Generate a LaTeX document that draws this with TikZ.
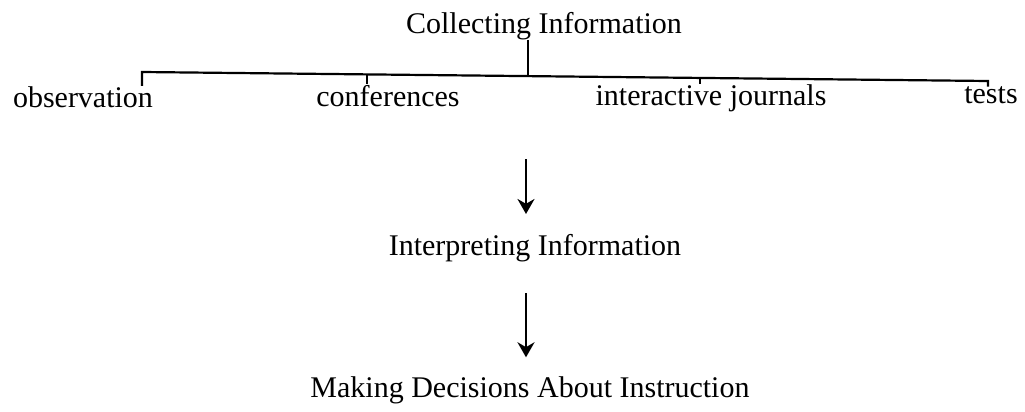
\documentclass[tikz,border=0pt]{standalone}
\usepackage{fontspec}
\setmainfont{Liberation Serif}
\usetikzlibrary{arrows.meta}

\begin{document}
\begin{tikzpicture}[
x=0.5pt, y=-0.5pt,
label/.style={anchor=base, inner sep=0pt, font=\fontsize{15}{18}\selectfont},
bracket/.style={line width=1.1pt},
flow/.style={line width=1.3pt, -{Stealth[length=7.5pt,width=8.5pt]}},
]
\useasboundingbox (0,0) rectangle (1025,412);
\node[label] (collect) at (544,33) {Collecting Information};
\node[label] (obs) at (83,107) {observation};
\node[label] (conf) at (388,106) {conferences};
\node[label] (journ) at (711,105) {interactive journals};
\node[label] (tests) at (991,104) {tests};
\node[label] (interp) at (535,255) {Interpreting Information};
\node[label] (decide) at (530,397) {Making Decisions About Instruction};

\coordinate (bl) at (142,72);
\coordinate (br) at (988,81);
\coordinate (stem) at (528,76);
\coordinate (tconf) at (367,74.4);
\coordinate (tjourn) at (700,77.9);
\coordinate (axis) at (526,0);

\draw[bracket] (bl |- obs.north) -- (bl) -- (br) -- (br |- tests.north);
\draw[bracket] (collect.south -| stem) -- (stem);
\draw[bracket] (tconf) -- (tconf |- conf.north);
\draw[bracket] (tjourn) -- (tjourn |- journ.north);

\draw[flow, shorten <=23.75pt, shorten >=9.75pt] (journ.south -| axis) -- (axis |- interp.north);
\draw[flow, shorten <=15.75pt, shorten >=9.25pt] (interp.south -| axis) -- (axis |- decide.north);
\end{tikzpicture}
\end{document}
